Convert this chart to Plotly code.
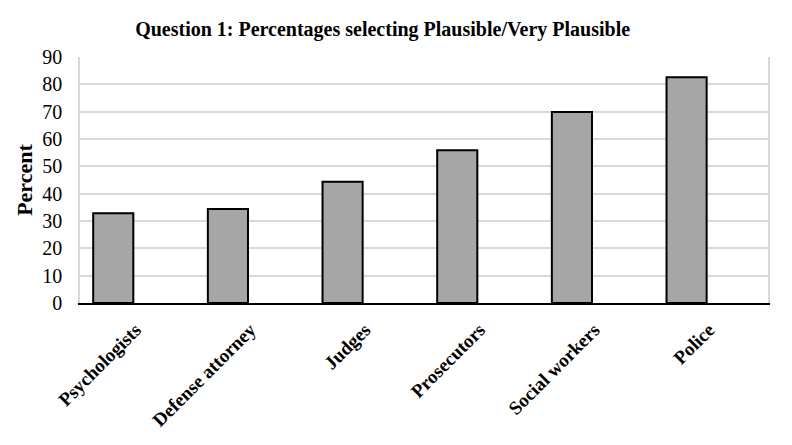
import plotly.graph_objects as go

categories = ["Psychologists", "Defense attorney", "Judges", "Prosecutors", "Social workers", "Police"]
percent = [32.8, 34.4, 44.4, 55.9, 69.9, 82.6]
y_ticks = [0, 10, 20, 30, 40, 50, 60, 70, 80, 90]

title_text = "Question 1: Percentages selecting Plausible/Very Plausible"
y_title = "Percent"

serif = "Liberation Serif, Times New Roman, serif"

fig = go.Figure()
fig.add_trace(go.Bar(
    x=categories, y=percent, width=0.35,
    marker=dict(color="#a6a6a6", line=dict(color="#000000", width=2)),
    hoverinfo="skip", showlegend=False, xaxis="x", yaxis="y",
))
# invisible helper trace that carries the (offset) category tick labels
fig.add_trace(go.Scatter(
    x=categories, y=percent, mode="markers", marker=dict(opacity=0),
    hoverinfo="skip", showlegend=False, xaxis="x2", yaxis="y",
))

fig.update_layout(
    width=792, height=445,
    margin=dict(l=72, r=32, t=49, b=150, autoexpand=False),
    paper_bgcolor="white", plot_bgcolor="white",
    title=dict(text=title_text, x=0.473, xanchor="center", y=0.952, yanchor="middle",
               font=dict(family=serif, size=20, color="black", weight="bold")),
    xaxis=dict(
        type="category", categoryorder="array", categoryarray=categories,
        range=[-0.29, 5.71], showticklabels=False, ticks="", automargin=False,
        showline=True, linecolor="black", linewidth=2, showgrid=False, zeroline=False,
    ),
    xaxis2=dict(
        type="category", categoryorder="array", categoryarray=categories,
        overlaying="x", anchor="y", side="bottom", automargin=False,
        range=[-0.485, 5.515], showline=False, showgrid=False, zeroline=False,
        ticks="", tickangle=-45, ticklabelstandoff=11,
        tickfont=dict(family=serif, size=19, color="black", weight="bold"),
    ),
    yaxis=dict(
        range=[0, 90], tickvals=y_ticks, ticks="", automargin=False,
        showgrid=True, gridcolor="#d9d9d9", gridwidth=1.5,
        showline=True, linecolor="#d9d9d9", linewidth=1.5, mirror=True,
        zeroline=False, ticklabelstandoff=12,
        tickfont=dict(family=serif, size=20, color="black"),
        title=dict(text=y_title, standoff=4,
                   font=dict(family=serif, size=22, color="black", weight="bold")),
    ),
)

fig.write_html("out.html")
